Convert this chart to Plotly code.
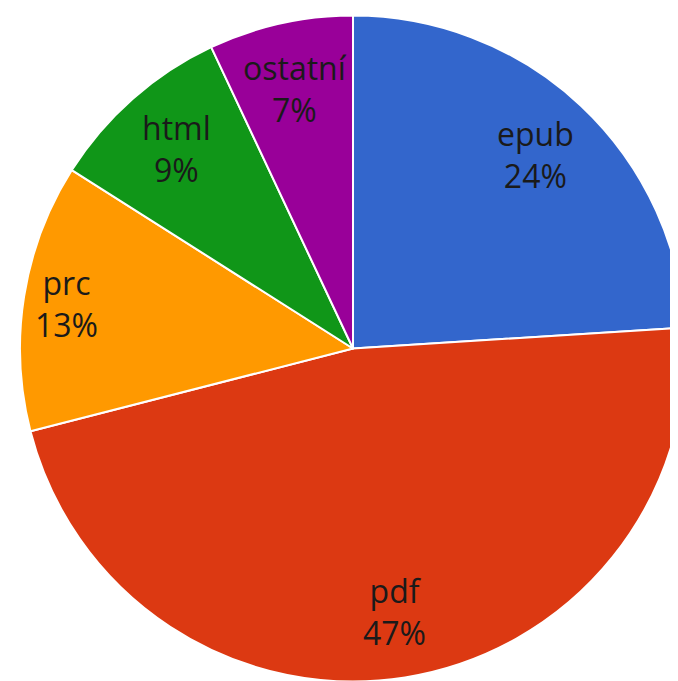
import math
import plotly.graph_objects as go

# formats share (%)
labels = ["epub", "pdf", "prc", "html", "ostatní"]
values = [24, 47, 13, 9, 7]
colors = ["#3366CC", "#DC3912", "#FF9900", "#109618", "#990099"]

W, H = 678, 681
left = 12
dom_x = [left / W, 1]
# pie geometry in pixels (radius = half of smaller domain side)
cx = (left + W) / 2
cy = H / 2
R = min(W - left, H) / 2

fig = go.Figure()

fig.add_trace(go.Pie(
    labels=labels,
    values=values,
    sort=False,
    direction="clockwise",
    rotation=0,
    marker=dict(colors=colors, line=dict(color="white", width=2)),
    textinfo="none",
    domain=dict(x=dom_x, y=[0, 1]),
    hoverinfo="label+percent",
))

# labels placed near the rim, at each slice's middle angle
total = sum(values)
cum = 0
for lab, v in zip(labels, values):
    mid = (cum + v / 2) / total * 2 * math.pi
    cum += v
    frac = 0.87 if lab == "prc" else 0.8
    px = cx + frac * R * math.sin(mid)
    py = cy + frac * R * math.cos(mid)
    fig.add_annotation(
        x=px / W, y=py / H, xref="paper", yref="paper",
        xanchor="center", yanchor="middle",
        text=f"{lab}<br>{round(v / total * 100)}%",
        showarrow=False,
        font=dict(family="Open Sans", size=32, color="#1a1a1a"),
        align="center",
    )

fig.update_layout(
    width=W,
    height=H,
    margin=dict(l=0, r=0, t=0, b=0),
    showlegend=False,
    paper_bgcolor="white",
)

fig.write_html("out.html")
